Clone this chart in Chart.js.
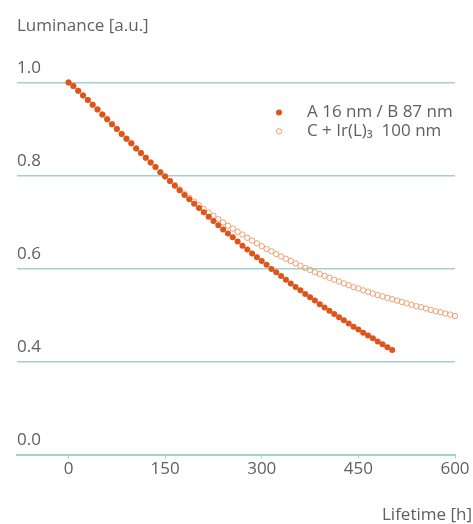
<!DOCTYPE html>
<html>
<head>
<meta charset="utf-8">
<script src="https://cdn.jsdelivr.net/npm/chart.js@4.4.0/dist/chart.umd.min.js"></script>
<style>
  html, body { margin: 0; padding: 0; background: #fff; }
  #wrap { width: 473px; height: 524px; }
</style>
</head>
<body>
<div id="wrap"><canvas id="chart"></canvas></div>
<script>
// ---------- DATA ----------

// lifetime in hours, one sample every 7.5 h
const hours = [
  0, 7.5, 15, 22.5, 30, 37.5, 45, 52.5, 60, 67.5,
  75, 82.5, 90, 97.5, 105, 112.5, 120, 127.5, 135, 142.5,
  150, 157.5, 165, 172.5, 180, 187.5, 195, 202.5, 210, 217.5,
  225, 232.5, 240, 247.5, 255, 262.5, 270, 277.5, 285, 292.5,
  300, 307.5, 315, 322.5, 330, 337.5, 345, 352.5, 360, 367.5,
  375, 382.5, 390, 397.5, 405, 412.5, 420, 427.5, 435, 442.5,
  450, 457.5, 465, 472.5, 480, 487.5, 495, 502.5, 510, 517.5,
  525, 532.5, 540, 547.5, 555, 562.5, 570, 577.5, 585, 592.5,
  600, 607.5, 615
];

// A 16 nm / B 87 nm
const lumA = [
  1.000, 0.992, 0.982, 0.972, 0.962, 0.952, 0.942, 0.931, 0.921, 0.910,
  0.900, 0.889, 0.879, 0.869, 0.858, 0.848, 0.838, 0.828, 0.818, 0.807,
  0.798, 0.788, 0.778, 0.768, 0.758, 0.749, 0.739, 0.730, 0.721, 0.711,
  0.702, 0.693, 0.684, 0.675, 0.667, 0.658, 0.649, 0.641, 0.632, 0.624,
  0.616, 0.608, 0.599, 0.592, 0.584, 0.576, 0.568, 0.560, 0.553, 0.545,
  0.538, 0.531, 0.523, 0.516, 0.509, 0.502, 0.495, 0.489, 0.482, 0.475,
  0.469, 0.462, 0.456, 0.450, 0.443, 0.437, 0.431, 0.425
];

// C + Ir(L)3 100 nm
const lumC = [
  1.000, 0.992, 0.982, 0.972, 0.962, 0.952, 0.942, 0.931, 0.921, 0.910,
  0.900, 0.889, 0.879, 0.869, 0.858, 0.848, 0.838, 0.828, 0.818, 0.807,
  0.798, 0.788,
  0.779, 0.770, 0.761, 0.752, 0.744, 0.736, 0.728, 0.720, 0.713, 0.706,
  0.699, 0.692, 0.686, 0.679, 0.673, 0.666, 0.660, 0.654, 0.648, 0.642,
  0.637, 0.631, 0.626, 0.621, 0.616, 0.611, 0.606, 0.601, 0.597, 0.592,
  0.588, 0.584, 0.580, 0.576, 0.572, 0.568, 0.564, 0.560, 0.557, 0.553,
  0.550, 0.546, 0.543, 0.540, 0.537, 0.534, 0.531, 0.528, 0.525, 0.522,
  0.519, 0.517, 0.514, 0.511, 0.508, 0.506, 0.503, 0.501, 0.498, 0.496,
  0.493
];

const seriesNames = ["A 16 nm / B 87 nm", "C + Ir(L)\u2083  100 nm"];

const xTicks = [0, 150, 300, 450, 600];
// the axis is broken: the lowest line stands for 0.0
const yTicks = [0.2, 0.4, 0.6, 0.8, 1.0];
const yTickLabels = ["0.0", "0.4", "0.6", "0.8", "1.0"];

const yTitle = "Luminance [a.u.]";
const xTitle = "Lifetime [h]";

// ---------- STYLE ----------

const textColor = "#606060";
const gridColor = "#a3d2cd";
const colorA = "#de551b";
const colorC = "#f0a06e";
const font = { family: "'Open Sans', sans-serif", size: 17, weight: "normal" };
const fontStr = `${font.size}px ${font.family}`;

// ---------- PLUGINS ----------

// legend sits inside the plot, top right
const innerLegend = {
  id: "innerLegend",
  afterDraw(chart) {
    const ctx = chart.ctx;
    const area = chart.chartArea;
    const x = area.left + 262;
    const y0 = area.top + 30;
    ctx.save();
    ctx.font = fontStr;
    ctx.textBaseline = "middle";
    ctx.textAlign = "left";
    chart.data.datasets.forEach((ds, i) => {
      const y = y0 + i * 19;
      ctx.fillStyle = ds.pointBackgroundColor;
      ctx.strokeStyle = ds.pointBorderColor;
      ctx.lineWidth = ds.pointBorderWidth;
      ctx.beginPath();
      ctx.arc(x, y, ds.pointRadius, 0, Math.PI * 2);
      ctx.fill();
      if (ds.pointBorderWidth) ctx.stroke();
      ctx.fillStyle = textColor;
      ctx.fillText(seriesNames[i], x + 28, y);
    });
    ctx.restore();
  }
};

// x axis caption at the bottom right corner
const xCaption = {
  id: "xCaption",
  afterDraw(chart) {
    const ctx = chart.ctx;
    ctx.save();
    ctx.font = fontStr;
    ctx.fillStyle = textColor;
    ctx.textAlign = "right";
    ctx.textBaseline = "middle";
    ctx.fillText(xTitle, chart.width - 1, 515);
    ctx.restore();
  }
};

// ---------- CHART ----------

new Chart(document.getElementById("chart"), {
  type: "scatter",
  data: {
    datasets: [
      {
        label: seriesNames[0],
        data: lumA.map((v, i) => ({ x: hours[i], y: v })),
        pointRadius: 3,
        pointBorderWidth: 0,
        pointBackgroundColor: colorA,
        pointBorderColor: colorA,
        clip: false
      },
      {
        label: seriesNames[1],
        data: lumC.map((v, i) => ({ x: hours[i], y: v })),
        pointRadius: 2.7,
        pointBorderWidth: 1,
        pointBackgroundColor: "rgba(255,255,255,0)",
        pointBorderColor: colorC,
        clip: false
      }
    ]
  },
  options: {
    responsive: true,
    maintainAspectRatio: false,
    animation: false,
    layout: { padding: { left: 17, right: 18, top: 0, bottom: 45 } },
    plugins: {
      legend: { display: false },
      tooltip: { enabled: false },
      title: {
        display: true,
        text: yTitle,
        align: "start",
        color: textColor,
        font: font,
        padding: { top: 16, bottom: 46 }
      }
    },
    scales: {
      x: {
        type: "linear",
        min: -80,
        max: 600,
        afterBuildTicks: s => { s.ticks = xTicks.map(v => ({ value: v })); },
        ticks: { color: textColor, font: font, padding: 0, maxRotation: 0 },
        grid: {
          drawOnChartArea: false,
          drawTicks: true,
          tickLength: 4,
          color: gridColor,
          lineWidth: 1
        },
        border: { color: gridColor, width: 2 }
      },
      y: {
        min: 0.2,
        max: 1.0,
        afterBuildTicks: s => { s.ticks = yTicks.map(v => ({ value: v })); },
        ticks: {
          mirror: true,
          padding: 0,
          labelOffset: -14,
          color: textColor,
          font: font,
          callback: (v, i) => yTickLabels[i]
        },
        grid: { color: gridColor, lineWidth: 1.6, drawTicks: false },
        border: { display: false }
      }
    }
  },
  plugins: [innerLegend, xCaption]
});
</script>
</body>
</html>
